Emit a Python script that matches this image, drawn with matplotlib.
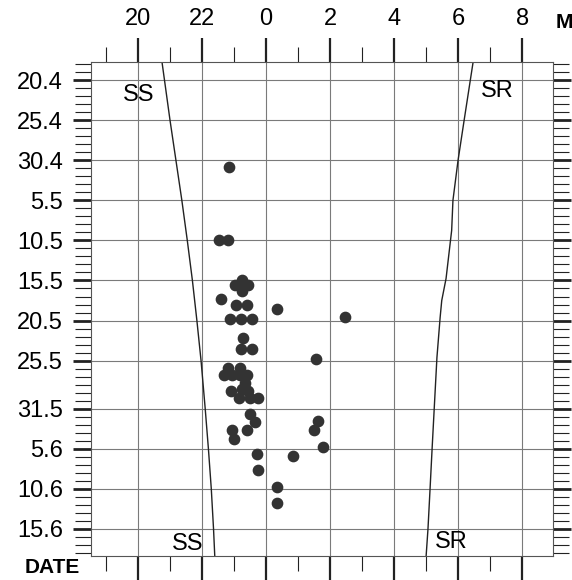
import numpy as np
from matplotlib import pyplot as plt
from matplotlib.ticker import FixedLocator, MultipleLocator

plt.rcParams['font.family'] = ['Liberation Sans', 'DejaVu Sans']

# y axis: days counted from 20 April
date_days = [0, 5, 10, 15, 20, 25, 30, 35, 41, 46, 51, 56]
date_labels = ['20.4', '25.4', '30.4', '5.5', '10.5', '15.5', '20.5',
               '25.5', '31.5', '5.6', '10.6', '15.6']

# x axis: hours, after midnight counted on as 24, 25 ...
hour_ticks = [20, 22, 24, 26, 28, 30, 32]
hour_labels = ['20', '22', '0', '2', '4', '6', '8']

# sunset line
ss_days = [-2.25, 5, 15, 20, 25, 30, 35, 41, 46, 51, 56, 59.5]
ss_hours = [20.75, 21.0, 21.37, 21.54, 21.7, 21.84, 21.97,
            22.1, 22.2, 22.29, 22.36, 22.4]

# sunrise line
sr_days = [-2.25, 5, 10, 15, 18.75, 24.75, 27.5, 29.6, 34.6, 40.6, 45.9,
           51, 56, 59.5]
sr_hours = [30.47, 30.19, 30.0, 29.84, 29.8, 29.625, 29.49, 29.44, 29.34,
            29.26, 29.19, 29.125, 29.06, 29.0]

# observations
obs_hours = [22.83, 22.52, 22.82, 23.24, 23.03, 23.45, 23.24, 22.58, 23.06,
             23.40, 24.34, 22.88, 23.21, 23.57, 26.46, 23.29, 23.21, 23.57,
             25.56, 22.81, 23.19, 22.69, 22.94, 23.19, 23.41, 23.34, 22.91,
             23.25, 23.44, 23.16, 23.50, 23.75, 23.51, 23.66, 22.93, 23.42,
             23.00, 25.63, 25.49, 25.79, 23.71, 24.84, 23.76, 24.33, 24.33]
obs_days = [10.9, 19.9, 19.9, 24.9, 25.6, 25.6, 26.3, 27.3, 28.0,
            28.0, 28.6, 29.8, 29.8, 29.8, 29.6, 32.2, 33.6, 33.6,
            34.8, 35.9, 35.9, 36.75, 36.75, 36.75, 36.75, 37.75, 38.75,
            38.5, 38.75, 39.6, 39.6, 39.6, 41.6, 42.7, 43.7, 43.7,
            44.8, 42.5, 43.7, 45.8, 46.7, 46.9, 48.7, 50.8, 52.75]

fig = plt.figure(figsize=(5.72, 5.8), dpi=100)
ax = fig.add_axes([0.159, 0.041, 0.808, 0.852])

ax.set_xlim(18.53, 32.97)
ax.set_ylim(59.4, -2.25)

ax.grid(True, which='major', color='#7a7a7a', lw=0.8)
ax.set_axisbelow(True)

ax.plot(ss_hours, ss_days, color='#222222', lw=1.0)
ax.plot(sr_hours, sr_days, color='#222222', lw=1.0)
ax.scatter(obs_hours, obs_days, s=55, color='#333333', zorder=3)

ax.text(20.03, 1.9, 'SS', fontsize=17, ha='center', va='center')
ax.text(21.56, 57.9, 'SS', fontsize=17, ha='center', va='center')
ax.text(31.21, 1.4, 'SR', fontsize=17, ha='center', va='center')
ax.text(29.8, 57.6, 'SR', fontsize=17, ha='center', va='center')

ax.xaxis.set_major_locator(FixedLocator(hour_ticks))
ax.set_xticklabels(hour_labels)
ax.xaxis.set_minor_locator(MultipleLocator(1))
ax.tick_params(axis='x', which='both', direction='out', top=True,
               bottom=True, labeltop=True, labelbottom=False,
               labelsize=17, pad=6, color='#222222')
ax.tick_params(axis='x', which='major', length=17, width=1.6)
ax.tick_params(axis='x', which='minor', length=11, width=0.8)

ax.yaxis.set_major_locator(FixedLocator(date_days))
ax.set_yticklabels(date_labels)
ax.yaxis.set_minor_locator(MultipleLocator(1))
ax.tick_params(axis='y', which='both', direction='out', left=True,
               right=True, labelsize=17, pad=7, color='#222222')
ax.tick_params(axis='y', which='major', length=13, width=2.0)
ax.tick_params(axis='y', which='minor', length=11.5, width=0.8)

for sp in ax.spines.values():
    sp.set_color('#555555')
    sp.set_linewidth(0.8)

fig.text(0.091, 0.021, 'DATE', fontsize=15, fontweight='bold',
         ha='center', va='center')
fig.text(0.972, 0.962, 'M', fontsize=15, fontweight='bold',
         ha='left', va='center')

fig.savefig('out.png', dpi=100)
